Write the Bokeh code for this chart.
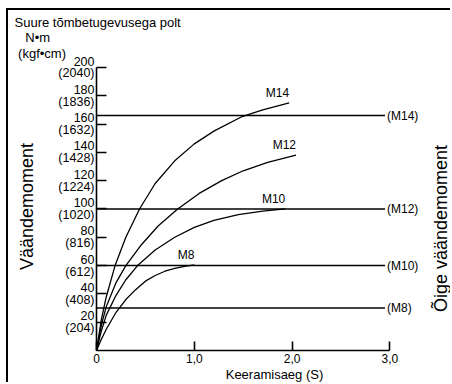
from math import pi
from bokeh.plotting import figure
from bokeh.models import Range1d, FixedTicker, Label, ColumnDataSource
from bokeh.core.properties import value
from bokeh.embed import file_html
from bokeh.resources import INLINE

# ---- data ----
time_ticks = [0, 1, 2, 3]
time_tick_labels = ["0", "1,0", "2,0", "3,0"]
torque_ticks = [20, 40, 60, 80, 100, 120, 140, 160, 180, 200]
torque_tick_labels = ["20\n(204)", "40\n(408)", "60\n(612)", "80\n(816)", "100\n(1020)",
                      "120\n(1224)", "140\n(1428)", "160\n(1632)", "180\n(1836)", "200\n(2040)"]

m14_x = [0, 0.05, 0.1, 0.19, 0.3, 0.44, 0.6, 0.8, 1.0, 1.2, 1.48, 1.7, 1.97]
m14_y = [0, 22, 38, 60, 80, 100, 118, 134, 146, 155, 165, 170, 175]
m12_x = [0, 0.05, 0.1, 0.2, 0.3, 0.45, 0.63, 0.83, 1.05, 1.28, 1.5, 1.75, 2.04]
m12_y = [0, 18, 31, 48, 60, 74, 88, 100, 111, 120, 127, 133, 138]
m10_x = [0, 0.05, 0.1, 0.2, 0.3, 0.42, 0.6, 0.8, 1.0, 1.2, 1.45, 1.7, 1.93]
m10_y = [0, 14, 25, 39, 50, 60, 71, 80, 87, 92, 96, 98.5, 100]
m8_x = [0, 0.05, 0.1, 0.2, 0.3, 0.4, 0.5, 0.6, 0.7, 0.8, 0.9, 1.0]
m8_y = [0, 8, 15, 27, 36, 43, 49, 53, 56, 58, 59.5, 60.5]
curve_names = ["M14", "M12", "M10", "M8"]

proper_names = ["(M14)", "(M12)", "(M10)", "(M8)"]
proper_values = [166, 100, 60, 30]
proper_line_end = 2.95

FONT = "Liberation Sans"
NB = "\u00a0"

p = figure(width=444, height=374, output_backend="svg", toolbar_location=None,
           x_range=Range1d(0, 3.64), y_range=Range1d(0, 203.5),
           min_border_left=88, min_border_right=0, min_border_top=49, min_border_bottom=34)
p.styles = {"margin-left": "6px", "margin-top": "8px",
            "border-left": "2px solid black", "border-top": "2px solid black"}
p.outline_line_color = None
p.xgrid.visible = False
p.ygrid.visible = False
p.background_fill_color = "white"
p.border_fill_color = "white"

# header text (as the plot title, left of the frame)
p.title.text = "Suure tõmbetugevusega polt\n" + NB * 3 + "N•m\n" + NB + "(kgf•cm)"
p.title.align = "left"
p.title.offset = -82
p.title.text_font = FONT
p.title.text_font_size = "13px"
p.title.text_font_style = "normal"
p.title.text_line_height = 1.05
p.title.standoff = 3
p.title.text_color = "black"

# axes
xa = p.xaxis[0]
xa.ticker = FixedTicker(ticks=time_ticks)
xa.major_label_overrides = {t: l for t, l in zip(time_ticks, time_tick_labels)}
xa.bounds = (time_ticks[0], time_ticks[-1])
xa.major_tick_in = 9
xa.major_tick_out = 0
xa.minor_tick_line_color = None
xa.axis_line_width = 1.6
xa.major_tick_line_width = 1.6
xa.major_label_standoff = 3
xa.major_label_text_font = FONT
xa.major_label_text_font_size = "12px"
xa.major_label_text_color = "black"
xa.axis_label = "Keeramisaeg (S)"
xa.axis_label_standoff = 1
xa.axis_label_text_font = FONT
xa.axis_label_text_font_size = "13px"
xa.axis_label_text_font_style = "normal"
xa.axis_label_text_color = "black"

ya = p.yaxis[0]
ya.ticker = FixedTicker(ticks=torque_ticks)
ya.major_label_overrides = {t: l for t, l in zip(torque_ticks, torque_tick_labels)}
ya.bounds = (0, torque_ticks[-1])
ya.major_tick_in = 10
ya.major_tick_out = 0
ya.minor_tick_line_color = None
ya.axis_line_width = 1.6
ya.major_tick_line_width = 1.4
ya.major_label_standoff = 2
ya.major_label_text_font = FONT
ya.major_label_text_font_size = "12.5px"
ya.major_label_text_color = "black"
ya.major_label_text_line_height = 0.85
ya.axis_label = "Väändemoment"
ya.axis_label_standoff = 18
ya.axis_label_text_font = FONT
ya.axis_label_text_font_size = "18px"
ya.axis_label_text_font_style = "normal"
ya.axis_label_text_color = "black"

# proper torque reference lines
ref = ColumnDataSource(dict(y=proper_values, name=proper_names,
                            x0=[0] * len(proper_values), x1=[proper_line_end] * len(proper_values)))
p.segment(x0="x0", y0="y", x1="x1", y1="y", source=ref, line_color="black", line_width=1.5)
p.text(x="x1", y="y", text="name", source=ref, x_offset=2, text_align="left",
       text_baseline="middle", text_font=value(FONT), text_font_size="12px", text_color="black")

# tightening curves
for name, xs, ys in zip(curve_names, [m14_x, m12_x, m10_x, m8_x], [m14_y, m12_y, m10_y, m8_y]):
    p.line(xs, ys, line_color="black", line_width=1.3)
    p.text(x=[xs[-1]], y=[ys[-1]], text=[name], text_align="right", text_baseline="bottom",
           y_offset=-3, text_font=value(FONT), text_font_size="12px", text_color="black")

# right-hand label (screen units from the frame's bottom-left corner)
p.add_layout(Label(x=344, y=122, x_units="screen", y_units="screen", text="Õige väändemoment",
                   text_font=FONT, text_font_size="18px", text_align="center",
                   text_baseline="middle", angle=pi / 2, text_color="black"))

open("out.html", "w").write(file_html(p, INLINE))
